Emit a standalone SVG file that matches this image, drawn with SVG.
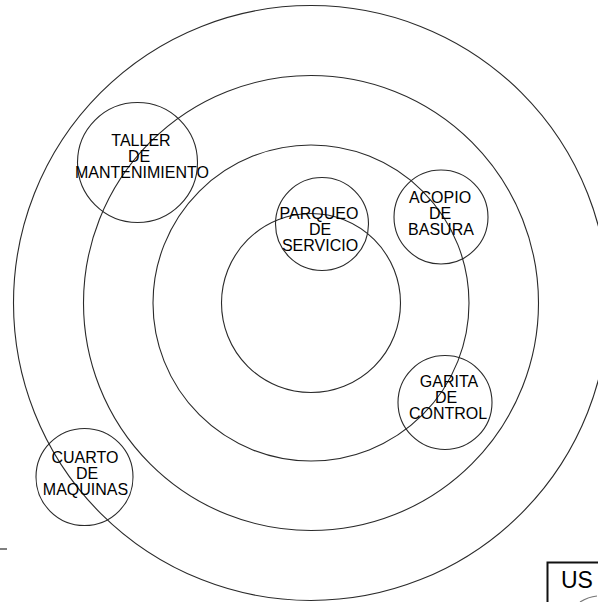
<svg xmlns="http://www.w3.org/2000/svg" width="598" height="602" viewBox="0 0 598 602">
<style>
.ring{fill:none;stroke:#2a2a2a;stroke-width:1.1}
.node circle{fill:none;stroke:#2a2a2a;stroke-width:1.1}
.node text{font-family:"Liberation Sans",Arial,sans-serif;font-size:16px;fill:#000;text-anchor:middle}
</style>
<rect width="598" height="602" fill="#fff"/>
<g id="zones">
<circle id="ring-1" class="ring" cx="311" cy="303" r="89.5"/>
<circle id="ring-2" class="ring" cx="311" cy="303" r="158"/>
<circle id="ring-3" class="ring" cx="311" cy="303" r="227.5"/>
<circle id="ring-4" class="ring" cx="311" cy="303" r="297.5"/>
</g>
<g id="connectors"></g>
<g id="taller" class="node">
<circle cx="137.5" cy="162.5" r="60"/>
<text x="141" y="146">TALLER</text>
<text x="139" y="162">DE</text>
<text x="142" y="178">MANTENIMIENTO</text>
</g>
<g id="parqueo" class="node">
<circle cx="322" cy="224" r="46.5"/>
<text x="319" y="219">PARQUEO</text>
<text x="320" y="235">DE</text>
<text x="320" y="251">SERVICIO</text>
</g>
<g id="acopio" class="node">
<circle cx="441" cy="217" r="47"/>
<text x="440" y="203">ACOPIO</text>
<text x="440" y="219">DE</text>
<text x="441" y="235">BASURA</text>
</g>
<g id="garita" class="node">
<circle cx="445" cy="402.5" r="47"/>
<text x="449" y="387">GARITA</text>
<text x="446" y="403">DE</text>
<text x="448" y="419">CONTROL</text>
</g>
<g id="cuarto" class="node">
<circle cx="84.5" cy="477" r="48.5"/>
<text x="85" y="463">CUARTO</text>
<text x="87" y="479">DE</text>
<text x="85.5" y="495">MAQUINAS</text>
</g>
<line x1="0" y1="549" x2="7" y2="549" stroke="#555" stroke-width="1.5"/>
<g id="us-label">
<path d="M547.5 602 V562.5 H598" fill="none" stroke="#111" stroke-width="2"/>
<text x="561" y="588" font-family="Liberation Sans,Arial,sans-serif" font-size="23" fill="#000">US</text>
<path d="M580 602 Q588 597 597 596" fill="none" stroke="#777" stroke-width="1.2"/>
</g>
</svg>
